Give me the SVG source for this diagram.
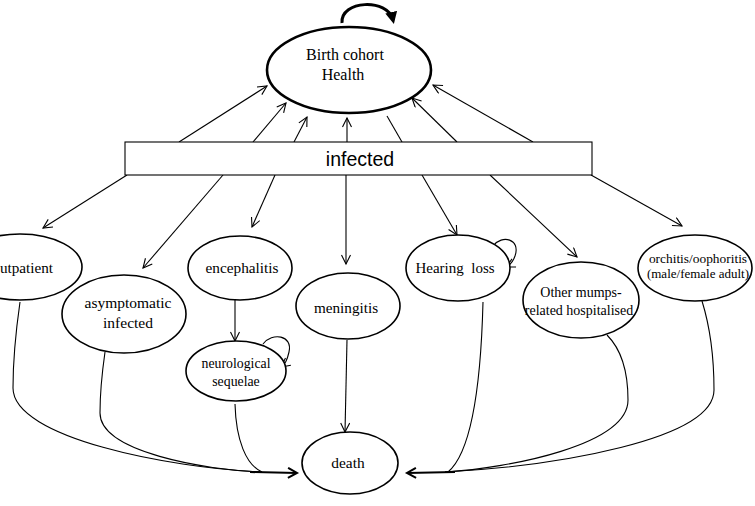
<svg xmlns="http://www.w3.org/2000/svg" width="755" height="506" viewBox="0 0 755 506">
<defs>
<style>
.n ellipse{fill:#fff;stroke:#000;stroke-width:1.6}
.t{font-family:"Liberation Serif","Times New Roman",serif;fill:#000;text-anchor:middle}
.c path,.c line{fill:none;stroke:#000;stroke-width:1.1}
.a{marker-end:url(#arr)}
</style>
<marker id="arr" markerWidth="12" markerHeight="12" refX="10" refY="5" orient="auto" markerUnits="userSpaceOnUse"><path d="M1,0.5 L10,5 L1,9.5" fill="none" stroke="#000" stroke-width="1.1"/></marker>
<marker id="arrB" markerWidth="14" markerHeight="14" refX="11" refY="6" orient="auto" markerUnits="userSpaceOnUse"><path d="M2,1 L11,6 L2,11" fill="none" stroke="#000" stroke-width="2"/></marker>
<marker id="arrF" markerWidth="16" markerHeight="16" refX="8" refY="8" orient="auto" markerUnits="userSpaceOnUse"><path d="M0,2 L12,8 L0,14 Z" fill="#000"/></marker>
</defs>
<rect width="755" height="506" fill="#fff"/>

<g id="connectors" class="c">
<!-- infected to birth cohort -->
<line class="a" x1="179" y1="142" x2="267" y2="86"/>
<line class="a" x1="253" y1="142" x2="286" y2="103"/>
<line class="a" x1="294" y1="142" x2="307" y2="117"/>
<line class="a" x1="347" y1="142" x2="347" y2="118"/>
<line x1="402" y1="142" x2="387" y2="116"/>
<line class="a" x1="457" y1="142" x2="412" y2="98"/>
<line class="a" x1="533" y1="142" x2="433" y2="85"/>
<!-- birth cohort self loop -->
<path d="M342,23 C340,0 388,-2 393,20" style="stroke-width:3;marker-end:url(#arrF)"/>
<!-- infected to states -->
<line class="a" x1="127" y1="175" x2="43" y2="228"/>
<line class="a" x1="223" y1="175" x2="143" y2="268"/>
<line class="a" x1="275" y1="175" x2="252" y2="227"/>
<line class="a" x1="346" y1="175" x2="346" y2="264"/>
<line class="a" x1="422" y1="175" x2="457" y2="235"/>
<line class="a" x1="490" y1="175" x2="577" y2="257"/>
<line class="a" x1="591" y1="175" x2="682" y2="226"/>
<!-- encephalitis to neurological -->
<line class="a" x1="235" y1="300" x2="235" y2="341"/>
<!-- self loops -->
<path class="a" d="M263,344 C272,332 293,335 289,352 C287,361 285,364 281,367"/>
<path class="a" d="M493,246 C502,234 521,239 515,256 C513,262 510,265 506,267"/>
<!-- meningitis to death -->
<line class="a" x1="347" y1="340" x2="345" y2="432"/>
<!-- left convergence -->
<path d="M20,302 C16,330 13,360 13,388 C13,438 170,468 262,472"/>
<path d="M105,352 C101,380 100,395 100,413 C100,452 205,470 262,472"/>
<path d="M235,404 C236,440 246,465 262,472"/>
<path d="M250,472 L297,473" style="stroke-width:2;marker-end:url(#arrB)"/>
<!-- right convergence -->
<path d="M483,302 C481,380 472,452 448,472"/>
<path d="M607,335 C624,352 628,378 628,400 C628,445 510,468 445,472"/>
<path d="M702,301 C711,330 714,360 714,390 C714,440 555,466 445,472"/>
<path d="M455,472 L407,473" style="stroke-width:2;marker-end:url(#arrB)"/>
</g>

<g id="birth" class="n">
<ellipse cx="349" cy="70" rx="82" ry="43" style="stroke-width:2.6"/>
<text class="t" x="345" y="60" font-size="16">Birth cohort</text>
<text class="t" x="343" y="80" font-size="16">Health</text>
</g>

<g id="infected">
<rect x="125" y="142" width="467" height="33" fill="#fff" stroke="#000" stroke-width="1.1"/>
<text x="360" y="166" font-family="Liberation Sans, Arial, sans-serif" font-size="19.5" text-anchor="middle">infected</text>
</g>

<g id="outpatient" class="n">
<ellipse cx="20" cy="267" rx="62" ry="33"/>
<text class="t" x="21" y="273" font-size="15.2">Outpatient</text>
</g>

<g id="asymptomatic" class="n">
<ellipse cx="124" cy="314" rx="62" ry="39"/>
<text class="t" x="128" y="308" font-size="15.5">asymptomatic</text>
<text class="t" x="128" y="328" font-size="15.5">infected</text>
</g>

<g id="encephalitis" class="n">
<ellipse cx="240" cy="268" rx="52" ry="32"/>
<text class="t" x="242" y="273" font-size="15.3">encephalitis</text>
</g>

<g id="neurological" class="n">
<ellipse cx="236" cy="371" rx="50" ry="30"/>
<text class="t" x="236" y="368" font-size="13.8">neurological</text>
<text class="t" x="236" y="386" font-size="13.8">sequelae</text>
</g>

<g id="meningitis" class="n">
<ellipse cx="348" cy="306" rx="52" ry="33"/>
<text class="t" x="346" y="313" font-size="15.2">meningitis</text>
</g>

<g id="hearing" class="n">
<ellipse cx="458" cy="268" rx="52" ry="33"/>
<text class="t" x="455" y="273" font-size="15" xml:space="preserve">Hearing  loss</text>
</g>

<g id="othermumps" class="n">
<ellipse cx="581" cy="300" rx="58" ry="38"/>
<text class="t" x="581" y="297" font-size="14">Other mumps-</text>
<text class="t" x="579" y="315" font-size="14">related hospitalised</text>
</g>

<g id="orchitis" class="n">
<ellipse cx="695" cy="268" rx="57" ry="33"/>
<text class="t" x="698" y="263" font-size="13.4">orchitis/oophoritis</text>
<text class="t" x="698" y="278" font-size="13">(male/female adult)</text>
</g>

<g id="death" class="n">
<ellipse cx="350" cy="463" rx="48" ry="31"/>
<text class="t" x="348" y="468" font-size="15.4">death</text>
</g>
</svg>
